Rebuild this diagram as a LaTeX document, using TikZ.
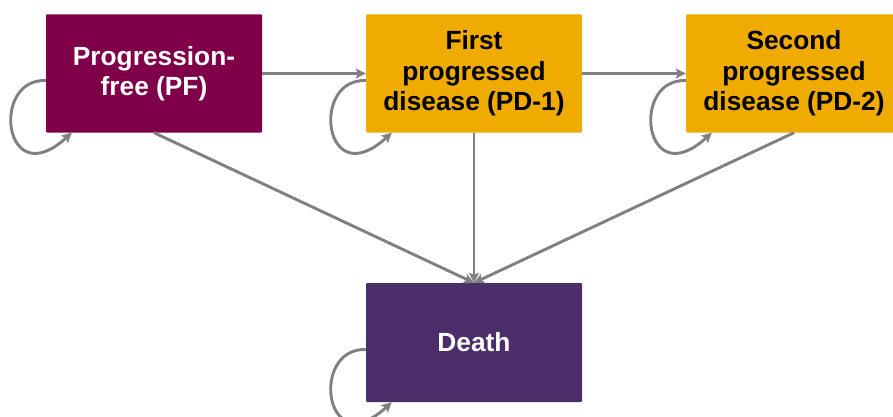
\documentclass[tikz,border=0pt]{standalone}
\usepackage{fontspec}
\setmainfont{Liberation Sans}
\usetikzlibrary{arrows.meta,calc}
\definecolor{pfcol}{HTML}{7F0049}
\definecolor{pdcol}{HTML}{F0AB00}
\definecolor{dcol}{HTML}{4B2D69}
\definecolor{arrcol}{HTML}{808080}
\tikzset{
  state/.style={rectangle, rounded corners=1pt, minimum width=216pt, minimum height=118pt,
    inner sep=0pt, align=center, font=\fontsize{26.3}{30.5}\selectfont\bfseries},
  conn/.style={draw=arrcol, line width=2.9pt, -{Stealth[length=10pt,width=10pt,inset=2pt]}},
}
\begin{document}
\begin{tikzpicture}[x=1pt,y=-1pt]
\useasboundingbox (0,0) rectangle (893,417);
\clip (0,0) rectangle (893,417);
\fill[white] (0,0) rectangle (893,417);
\node[state, fill=pfcol, text=white] (pf) at (154,73.5) {Progression-\\free (PF)};
\node[state, fill=pdcol, text=black] (pd1) at (474,73.5) {First\\progressed\\disease (PD-1)};
\node[state, fill=pdcol, text=black] (pd2) at (794,73.5) {Second\\progressed\\disease (PD-2)};
\node[state, fill=dcol, text=white, minimum height=119pt] (death) at (474,342.5) {Death};
% transitions
\draw[conn] (pf.east) -- (pd1.west);
\draw[conn] (pd1.east) -- (pd2.west);
\draw[conn] (pf.south) -- (death.north);
\draw[conn] (pd1.south) -- (death.north);
\draw[conn] (pd2.south) -- (death.north);
% self loops
\foreach \n in {pf,pd1,pd2,death}{
  \draw[conn] ($(\n.west)+(0,7)$) .. controls +(-56,-2) and +(-68,62) .. ($(\n.south west)+(26,0)$);
}
\end{tikzpicture}
\end{document}
